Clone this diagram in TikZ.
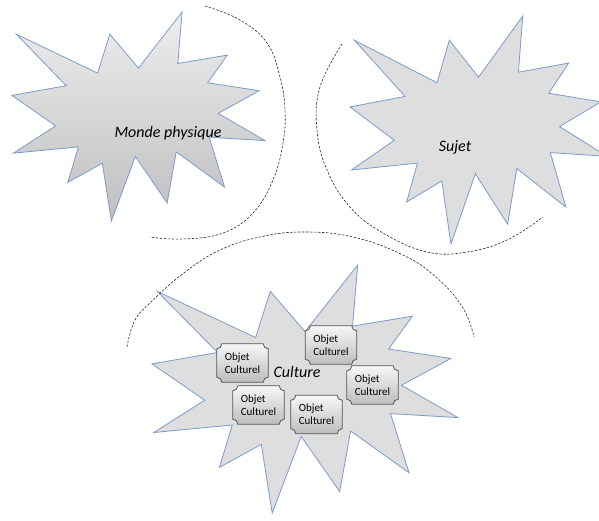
\documentclass[tikz,border=0pt]{standalone}
\usepackage{fontspec}
\setmainfont{Carlito}
\usetikzlibrary{calc}
\definecolor{burstline}{RGB}{122,156,204}
\definecolor{burstfill}{RGB}{222,222,222}
\definecolor{plaqueline}{RGB}{85,85,85}
\tikzset{
  seal/.pic={\path[pic actions] (0.5,0.2685) -- (0.6723,0) -- (0.6553,0.2465) -- (0.8509,0.2063) -- (0.7732,0.3387) -- (0.9767,0.3767) -- (0.8151,0.4850) -- (1,0.6153) -- (0.7795,0.5992) -- (0.8400,0.8377) -- (0.6491,0.6693) -- (0.6133,0.9137) -- (0.4876,0.6914) -- (0.3928,1) -- (0.3572,0.7235) -- (0.2205,0.8156) -- (0.2624,0.6452) -- (0.00625,0.6753) -- (0.1723,0.5451) -- (0,0.3988) -- (0.2142,0.3526) -- (0.0171,0.1063) -- (0.3385,0.2926) -- (0.3867,0.1063) -- cycle;},
  burst/.style={draw=burstline, line width=0.8pt, line join=miter},
  burstflat/.style={burst, fill=burstfill},
  burstshade/.style={burst, top color=black!7, bottom color=black!25},
  lbl/.style={font=\fontsize{16}{18}\selectfont\itshape, inner sep=0pt},
  arcline/.style={draw=black!85, line width=0.6pt, dash pattern=on 2.4pt off 1.6pt},
  objtxt/.style={font=\fontsize{11}{13}\selectfont, align=left, minimum width=51pt, minimum height=38pt, inner sep=0pt},
  plaque/.style={draw=plaqueline, line width=0.8pt, top color=black!3, bottom color=black!26},
}
\newcommand\objetbox[3]{%
  \node[objtxt] (#1) at (#2,#3) {};
  \path[plaque] let \p1=(#1.north west), \p2=(#1.south east) in
    (\x1+5pt,\y1) -- (\x2-5pt,\y1)
    .. controls (\x2-5pt,\y1-2.8pt) and (\x2-2.8pt,\y1-5pt) .. (\x2,\y1-5pt)
    -- (\x2,\y2+5pt)
    .. controls (\x2-2.8pt,\y2+5pt) and (\x2-5pt,\y2+2.8pt) .. (\x2-5pt,\y2)
    -- (\x1+5pt,\y2)
    .. controls (\x1+5pt,\y2+2.8pt) and (\x1+2.8pt,\y2+5pt) .. (\x1,\y2+5pt)
    -- (\x1,\y1-5pt)
    .. controls (\x1+2.8pt,\y1-5pt) and (\x1+5pt,\y1-2.8pt) .. (\x1+5pt,\y1)
    -- cycle;
  \node[objtxt] at (#1) {Objet\\Culturel};
}
\begin{document}
\begin{tikzpicture}[x=1pt,y=-1pt]
\useasboundingbox (0,0) rectangle (599,520);
% starbursts
\pic[burstshade, xscale=253, yscale=209] at (12,12) {seal};
\pic[burstflat, xscale=257, yscale=228] at (350,16) {seal};
\pic[burstflat, xscale=306, yscale=248] at (152,265) {seal};
% labels
\node[lbl] (monde) at (168,133) {Monde physique};
\node[lbl] (sujet) at (455,147) {Sujet};
\node[lbl] (culture) at (297,372) {Culture};
% dashed arcs
\draw[arcline] plot[smooth, tension=0.7] coordinates {(205,6) (240,20) (267,43) (280,77) (285,110) (283,143) (273,180) (253,213) (223,233) (183,239) (150,237)};
\draw[arcline] plot[smooth, tension=0.7] coordinates {(342,44) (320,87) (317,130) (327,170) (350,207) (383,233) (427,252) (467,252) (507,240) (543,217)};
\draw[arcline] plot[smooth, tension=0.7] coordinates {(127,347) (135,320) (153,300) (185,272) (220,250) (260,237) (303,232) (353,237) (403,255) (437,278) (463,308) (474,337)};
% objets culturels
\objetbox{oa}{242.5}{363}
\objetbox{ob}{331}{345}
\objetbox{oc}{372.5}{385}
\objetbox{od}{258.5}{405}
\objetbox{oe}{316.5}{414.5}
\end{tikzpicture}
\end{document}
